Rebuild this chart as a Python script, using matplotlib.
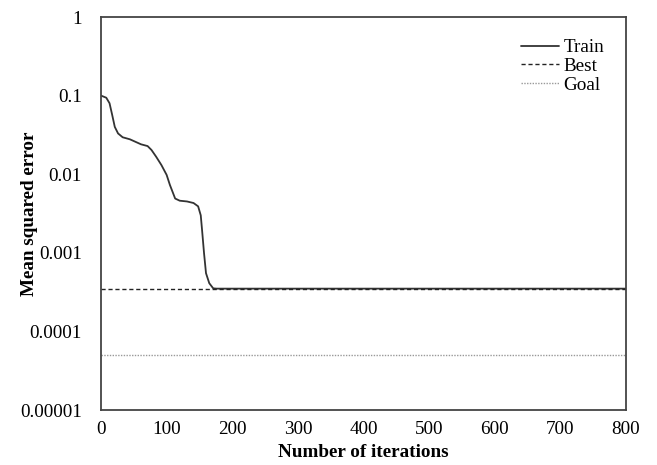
import numpy as np
import matplotlib.pyplot as plt
from matplotlib.ticker import FixedLocator, FixedFormatter

# training curve
iters = [0, 8, 13, 17, 21, 26, 33, 44, 54, 61, 71, 77, 84, 92, 100, 105, 113,
         120, 131, 141, 148, 152, 154, 157, 160, 165, 171, 176, 800]
mse = [0.1, 0.094, 0.080, 0.057, 0.040, 0.033, 0.0295, 0.0278, 0.0255, 0.0240,
       0.0228, 0.0203, 0.0167, 0.0131, 0.0098, 0.0073, 0.0049, 0.0046, 0.0045,
       0.0043, 0.0039, 0.0030, 0.00195, 0.00099, 0.00055, 0.00041, 0.000353,
       0.00035, 0.00035]
best_mse = 0.00035
goal_mse = 0.00005
yticks = [1e-5, 1e-4, 1e-3, 1e-2, 1e-1, 1]
ylabels = ["0.00001", "0.0001", "0.001", "0.01", "0.1", "1"]
xticks = [0, 100, 200, 300, 400, 500, 600, 700, 800]

plt.rcParams["font.family"] = ["Liberation Serif", "DejaVu Serif"]
plt.rcParams["font.size"] = 13.8

fig = plt.figure(figsize=(6.57, 4.65), dpi=100)
ax = fig.add_axes([101 / 657, 55 / 465, 525 / 657, 393 / 465])

ax.plot(iters, mse, color="#333333", lw=1.3, label="Train",
        solid_joinstyle="round", solid_capstyle="round")
ax.plot([0, 800], [best_mse, best_mse], color="#222222", lw=1.0, ls=(0, (3, 2)), label="Best")
ax.plot([0, 800], [goal_mse, goal_mse], color="#999999", lw=1.0, ls=(0, (1, 1)), label="Goal")

ax.set_yscale("log")
ax.set_ylim(1e-5, 1)
ax.set_xlim(0, 800)
ax.yaxis.set_major_locator(FixedLocator(yticks))
ax.yaxis.set_major_formatter(FixedFormatter(ylabels))
ax.yaxis.set_minor_locator(FixedLocator([]))
ax.set_xticks(xticks)
ax.tick_params(length=0, pad=8)
ax.tick_params(axis="y", pad=13.7)

for s in ax.spines.values():
    s.set_color("#444444")
    s.set_linewidth(1.3)

ax.set_xlabel("Number of iterations", fontweight="bold", labelpad=4)
ax.set_ylabel("Mean squared error", fontweight="bold")
ax.yaxis.set_label_coords(-0.12, 0.5)

ax.legend(loc="upper right", frameon=False, handlelength=2.0, handletextpad=0.2,
          labelspacing=0.06, borderaxespad=0.75, fontsize=13.8)

fig.savefig("out.png", dpi=100)
